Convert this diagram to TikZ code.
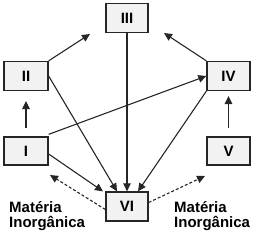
\documentclass[tikz,border=0pt]{standalone}
\usepackage{fontspec}
\setmainfont{Liberation Sans}
\usetikzlibrary{arrows.meta}
\begin{document}
\begin{tikzpicture}[x=1pt,y=-1pt,
  box/.style={draw=black!85,line width=1.3pt,fill=black!5,minimum width=42pt,minimum height=29pt,inner sep=0pt,font=\bfseries\fontsize{15}{15}\selectfont},
  arr/.style={line width=1.1pt,black!85,-{Triangle[length=8pt,width=7.5pt]}},
  darr/.style={arr,densely dashed},
  lbl/.style={font=\bfseries\fontsize{15}{15}\selectfont,align=left,inner sep=0pt,text=black}]
\useasboundingbox (0,0) rectangle (256,235);
\node[box] (III) at (127,18) {III};
\node[box,minimum width=44pt] (II) at (26,76) {II};
\node[box,minimum width=43pt] (IV) at (228.5,76) {IV};
\node[box,minimum width=44pt,minimum height=28pt] (I) at (26,151) {I};
\node[box,minimum width=43pt,minimum height=28pt] (V) at (228.5,151) {V};
\node[box] (VI) at (127,206.5) {VI};
\coordinate (t2) at (90,34);
\coordinate (t4) at (164,33);
\coordinate (a1) at (26,128);
\coordinate (b1) at (26,101);
\coordinate (a5) at (228.5,128);
\coordinate (b5) at (228.5,96);
\coordinate (d1) at (50,175);
\coordinate (d5) at (205,176);
\draw[arr] (II.north east) -- (t2);
\draw[arr] (IV.north west) -- (t4);
\draw[arr] (a1) -- (b1);
\draw[arr] (a5) -- (b5);
\draw[arr] ([yshift=2pt]I.north east) -- (IV.west);
\draw[arr] (II.east) -- ([xshift=-10pt]VI.north);
\draw[arr] (III.south) -- (VI.north);
\draw[arr] (IV.south west) -- ([xshift=11pt]VI.north);
\draw[arr] ([yshift=-3pt]I.east) -- ([xshift=-24pt]VI.north);
\draw[darr] ([yshift=-3pt]VI.west) -- (d1);
\draw[darr] ([yshift=4pt]VI.east) -- (d5);
\node[lbl,anchor=north west] (L) at (9,201) {Matéria\\Inorgânica};
\node[lbl,anchor=north west] (R) at (174,201) {Matéria\\Inorgânica};
\end{tikzpicture}
\end{document}
